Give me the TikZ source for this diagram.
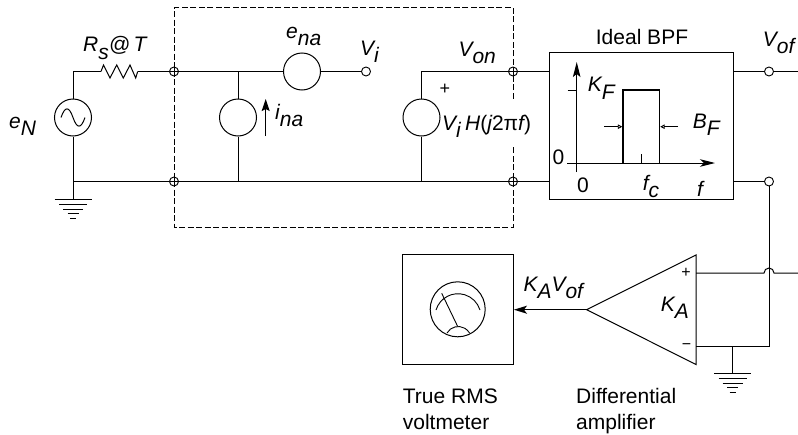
\documentclass[tikz,border=0pt]{standalone}
\usepackage{amsmath,amssymb}
\usepackage{fontspec}
\setmainfont{Liberation Sans}
\usetikzlibrary{arrows.meta, positioning, calc}

\tikzset{
  wire/.style={line width=1pt},
  srccirc/.style={circle, draw, line width=1pt, minimum size=37pt, inner sep=0pt},
  term/.style={circle, draw, line width=0.9pt, fill=white, minimum size=9pt, inner sep=0pt},
  crossterm/.style={term, path picture={\draw[line width=0.8pt] (path picture bounding box.west) -- (path picture bounding box.east) (path picture bounding box.north) -- (path picture bounding box.south);}},
  block/.style={rectangle, draw, line width=1pt, inner sep=0pt},
  lbl/.style={font=\fontsize{21}{24}\selectfont\itshape, inner sep=0pt, anchor=base west},
  txt/.style={font=\fontsize{21}{24}\selectfont, inner sep=0pt, anchor=base west},
  pinlbl/.style={font=\fontsize{16}{18}\selectfont, inner sep=0pt},
  gnd/.pic={
    \draw[line width=1pt] (-18.5,0) -- (18.5,0);
    \draw[line width=1pt] (-14,5) -- (14,5);
    \draw[line width=1pt] (-10,9.5) -- (10,9.5);
    \draw[line width=1pt] (-5.5,14) -- (5.5,14);
    \draw[line width=1pt] (-3,18.5) -- (3,18.5);
  },
}
\newcommand{\subtxt}[2]{#1\raisebox{-7.3pt}{#2}}

\begin{document}
\begin{tikzpicture}[x=1pt, y=-1pt]
  \useasboundingbox (0,0) rectangle (798,434);

  % input side
  \node[srccirc] (en) at (73,117.5) {};
  \coordinate (tl) at (73,71.5);
  \coordinate (bl) at (73,181.5);
  \coordinate (ra) at (101,71.5);
  \coordinate (rb) at (137.7,71.5);
  \node[crossterm] (j1) at (174,71.5) {};
  \node[crossterm] (j2) at (174,181.5) {};
  \node[srccirc] (ina) at (238,117.5) {};
  \node[srccirc] (ena) at (302,71.5) {};
  \node[term] (vi) at (366,71.5) {};
  \node[srccirc] (vh) at (421.5,117.5) {};
  \node[crossterm] (j3) at (513,71.5) {};
  \node[crossterm] (j4) at (513,181.5) {};

  % filter and output
  \node[block, minimum width=184pt, minimum height=146.5pt] (bpf) at (641,126.2) {};
  \node[term] (vof) at (769,71.5) {};
  \node[term] (vob) at (769,181.5) {};
  \coordinate (outr) at (798,71.5);

  % amplifier and meter
  \coordinate (apex) at (586.7,309.7);
  \coordinate (ampt) at (696,255);
  \coordinate (ampb) at (696,364.5);
  \coordinate (inp) at (696,273);
  \coordinate (inm) at (696,346.7);
  \coordinate (inmr) at (769,346.7);
  \coordinate (gndb) at (732.7,346.7);
  \coordinate (gndc) at (732.7,373.5);
  \coordinate (hopa) at (764,273);
  \coordinate (inpr) at (798,273);
  \node[block, minimum width=110.5pt, minimum height=110.5pt] (vm) at (458.2,309.7) {};
  \node[circle, draw, line width=1pt, minimum size=55pt, inner sep=0pt] (dial) at (457.7,309.3) {};

  % dashed enclosure
  \draw[line width=0.8pt, dash pattern=on 6pt off 2.5pt] (513,98.5) -- (513,7.5) -- (174,7.5) -- (174,227) -- (513,227) -- (513,145);

  \draw[wire] (en.north) -- (tl) -- (ra);
  \draw[wire] (ra) -- (103.5,65) -- (110,78) -- (116.7,65) -- (123.3,78) -- (130,65) -- (135.7,78) -- (rb);
  \draw[wire] (rb) -- (j1);
  \draw[wire] (j1) -- (ena);
  \draw[wire] (ena) -- (vi);
  \draw[wire] (ina.north) -- (ina.north |- j1);
  \draw[wire] (ina.south) -- (ina.south |- j2);
  \draw[wire] (en.south) -- (bl) -- (j2);
  \draw[wire] (j2) -- (j4);
  \draw[wire] (vh.north) -- (vh.north |- j3) -- (j3);
  \draw[wire] (vh.south) -- (vh.south |- j4);
  \draw[wire] (j3) -- (bpf.west |- j3);
  \draw[wire] (j4) -- (bpf.west |- j4);
  \draw[wire] (bpf.east |- vof) -- (vof);
  \draw[wire] (vof) -- (outr);
  \draw[wire] (bpf.east |- vob) -- (vob);
  \draw[wire] (vob) -- (inmr) -- (inm);
  \draw[wire] (inp) -- (hopa) arc[start angle=180, end angle=0, radius=5pt] -- (inpr);
  \draw[wire] (gndb) -- (gndc);
  \draw[wire] (bl) -- (73,199.5);
  \draw[wire] (apex) -- (ampt) -- (ampb) -- cycle;
  \draw[line width=1.3pt, -{Stealth[length=13pt, width=8pt, inset=3pt]}] (apex) -- (vm.east |- apex);

  \pic at (73,199.5) {gnd};
  \pic at (gndc) {gnd};

  % inner plot of the filter
  \coordinate (ax0) at (576.7,172);
  \coordinate (ax1) at (576.7,62);
  \coordinate (ay0) at (567,163);
  \coordinate (ay1) at (715,163);
  \draw[wire, -{Stealth[length=15pt, width=7.5pt, inset=3pt]}] (ax0) -- (ax1);
  \draw[wire, -{Stealth[length=15pt, width=7.5pt, inset=4pt]}] (ay0) -- (ay1);
  \draw[wire] (567.5,90) -- (576.7,90);
  \draw[line width=1.2pt] (623,163) -- (623,90) -- (659.5,90) -- (659.5,163);
  \draw[wire] (641,154) -- (641,163);
  \draw[line width=0.9pt, -{Triangle[open, length=4.5pt, width=4.5pt]}] (604,126.7) -- (622.3,126.7);
  \draw[line width=0.9pt, -{Triangle[open, length=4.5pt, width=4.5pt]}] (678,126.7) -- (660.2,126.7);

  % sine and arrows in the sources
  \draw[wire] (61,117.5) .. controls (65,106) and (69,106) .. (73,117.5) .. controls (77,129) and (81,129) .. (85,117.5);
  \draw[wire, -{Stealth[length=12pt, width=8pt, inset=2pt]}] (265.7,136) -- (265.7,99);

  % meter face
  \draw[line width=0.9pt] (436,310) arc[start angle=163, end angle=17, radius=23pt];
  \draw[line width=0.9pt] (441.7,293.3) -- (457.7,326.5);
  \draw[line width=0.9pt] (447,333) arc[start angle=150, end angle=30, radius=13pt];

  % labels
  \node[lbl] (enlbl) at (9,128) {\subtxt{e}{N}};
  \node[lbl] (rslbl) at (83,51.7) {\subtxt{R}{s}@\,T};
  \node[lbl] (enalbl) at (286,38.5) {\subtxt{e}{na}};
  \node[lbl] (vilbl) at (360,55) {\subtxt{V}{i}};
  \node[lbl] (inalbl) at (275,119) {\subtxt{i}{na}};
  \node[lbl] (vonlbl) at (458.3,56) {\subtxt{V}{on}};
  \node[pinlbl, font=\fontsize{18}{20}\selectfont] (pluslbl) at (445,89) {+};
  \node[lbl] (vhlbl) at (442,130) {\subtxt{V}{i}};
  \node[lbl] (hlbl) at (465,130) {H{\upshape(}j{\upshape 2π}f{\upshape)}};
  \node[txt, anchor=base] (bpflbl) at (642,44) {Ideal BPF};
  \node[lbl] (voflbl) at (762.7,46) {\subtxt{V}{of}};
  \node[lbl] (kflbl) at (587.7,91.7) {\subtxt{K}{F}};
  \node[lbl] (bflbl) at (692.7,128.3) {\subtxt{B}{F}};
  \node[txt] (zeroa) at (552.5,164.3) {0};
  \node[txt] (zerob) at (577,192.7) {0};
  \node[lbl] (fclbl) at (642.7,190) {\subtxt{f}{c}};
  \node[lbl] (flbl) at (697,196.7) {f};
  \node[lbl] (kavlbl) at (523.3,291) {\subtxt{K}{A}\subtxt{V}{of}};
  \node[lbl] (kalbl) at (660.7,311.5) {\subtxt{K}{A}};
  \node[pinlbl] (pluspin) at (686,273.3) {+};
  \node[pinlbl] (minuspin) at (686.5,346.7) {−};
  \node[txt] (vmlbl) at (402.7,403) {True RMS};
  \node[txt] (vmlblb) at (402.7,429) {voltmeter};
  \node[txt] (amplbl) at (576,403) {Differential};
  \node[txt] (amplblb) at (576,429) {amplifier};
\end{tikzpicture}
\end{document}
